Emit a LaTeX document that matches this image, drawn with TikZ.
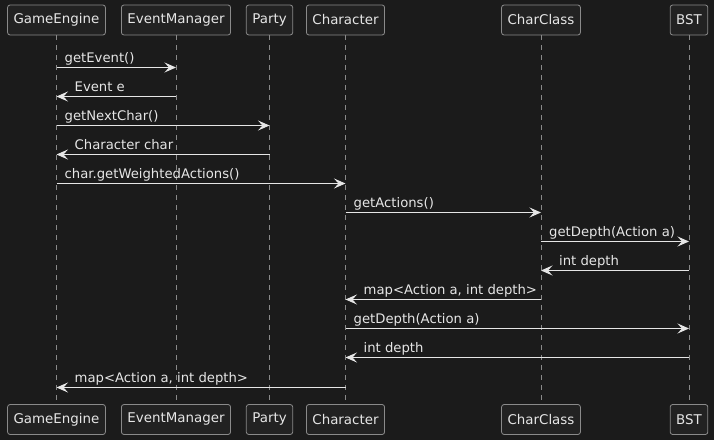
\documentclass[tikz,border=0pt]{standalone}
\usepackage{fontspec}
\setmainfont{DejaVu Sans}
\usetikzlibrary{arrows.meta}
\definecolor{bg}{HTML}{1B1B1B}
\definecolor{boxfill}{HTML}{222222}
\definecolor{boxline}{HTML}{8A8A8A}
\definecolor{txt}{HTML}{E6E6E6}
\definecolor{life}{HTML}{8A8A8A}
\begin{document}
\begin{tikzpicture}[x=1bp,y=-1bp,
  part/.style={draw=boxline,fill=boxfill,rounded corners=2.5bp,line width=0.8bp,
    text=txt,font=\fontsize{13.4bp}{15bp}\selectfont,minimum height=30bp,inner xsep=6bp,anchor=center},
  lifeline/.style={draw=life,dash pattern=on 5bp off 5bp,line width=0.7bp},
  msg/.style={draw=txt,line width=1bp,-{Stealth[length=11.5bp,width=10bp,inset=4.5bp]}},
  lbl/.style={text=txt,font=\fontsize{13.2bp}{15bp}\selectfont,inner sep=0pt,anchor=base west}]
\fill[bg] (0,0) rectangle (714,440);
\useasboundingbox (0,0) rectangle (714,440);
% top participants
\node[part] (ge) at (56.5,20) {GameEngine};
\node[part] (em) at (176,20) {EventManager};
\node[part] (pa) at (269.5,20) {Party};
\node[part] (ch) at (345.5,20) {Character};
\node[part] (cc) at (541,20) {CharClass};
\node[part] (bs) at (689,20) {BST};
% bottom participants
\node[part] (ge2) at (56.5,419.5) {GameEngine};
\node[part] (em2) at (176,419.5) {EventManager};
\node[part] (pa2) at (269.5,419.5) {Party};
\node[part] (ch2) at (345.5,419.5) {Character};
\node[part] (cc2) at (541,419.5) {CharClass};
\node[part] (bs2) at (689,419.5) {BST};
% lifelines
\foreach \a/\b in {ge/ge2,em/em2,pa/pa2,ch/ch2,cc/cc2,bs/bs2}
  \draw[lifeline] (\a.south) -- (\b.north);
% messages
\newcommand{\msgR}[4]{% from, to, y, label
  \coordinate (s) at (#1.center |- 0,#3);
  \coordinate (t) at (#2.center |- 0,#3);
  \draw[msg] (s) -- (t);
  \node[lbl] at ([xshift=8bp,yshift=4.7bp]s) {#4};}
\newcommand{\msgL}[4]{% from, to, y, label
  \coordinate (s) at (#1.center |- 0,#3);
  \coordinate (t) at (#2.center |- 0,#3);
  \draw[msg] (s) -- (t);
  \node[lbl] at ([xshift=18bp,yshift=4.7bp]t) {#4};}
\msgR{ge}{em}{67.5}{getEvent()}
\msgL{em}{ge}{96.5}{Event e}
\msgR{ge}{pa}{125.5}{getNextChar()}
\msgL{pa}{ge}{154.5}{Character char}
\msgR{ge}{ch}{183.5}{char.getWeightedActions()}
\msgR{ch}{cc}{212.5}{getActions()}
\msgR{cc}{bs}{241.5}{getDepth(Action a)}
\msgL{bs}{cc}{270.5}{int depth}
\msgL{cc}{ch}{299.5}{map<Action a, int depth>}
\msgR{ch}{bs}{328.5}{getDepth(Action a)}
\msgL{bs}{ch}{357.5}{int depth}
\msgL{ch}{ge}{387.5}{map<Action a, int depth>}
\end{tikzpicture}
\end{document}
